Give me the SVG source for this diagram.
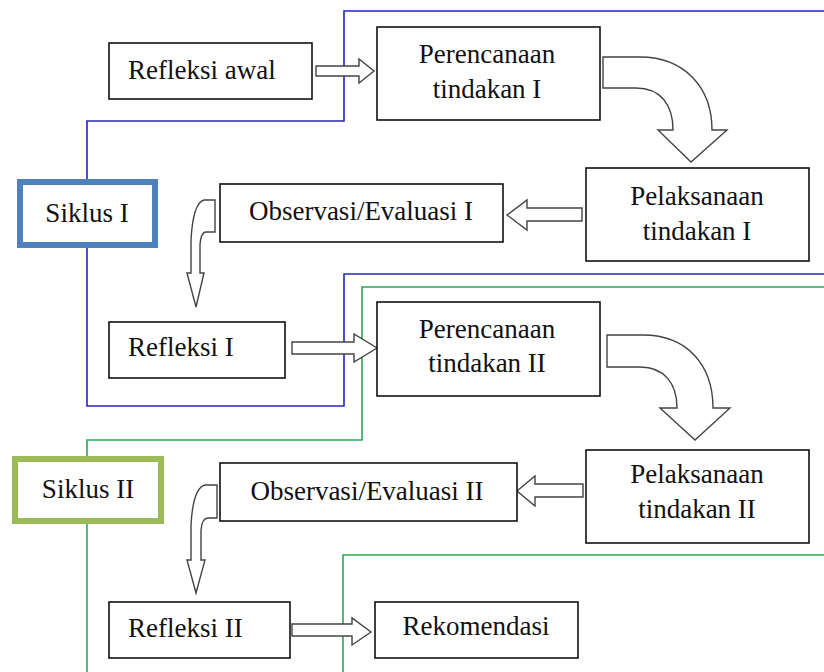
<svg xmlns="http://www.w3.org/2000/svg" width="824" height="672" viewBox="0 0 824 672">
<style>
.box{fill:#fff;stroke:#111;stroke-width:1.6}
.t{font-family:'Liberation Serif','Times New Roman','DejaVu Serif',serif;font-size:27px;fill:#111}
.c{text-anchor:middle}
.arr{fill:#fff;stroke:#444;stroke-width:1.4;stroke-linejoin:miter}
.blue{fill:none;stroke:#2424bf;stroke-width:1.6}
.green{fill:none;stroke:#2aa85a;stroke-width:1.6}
</style>
<rect width="824" height="672" fill="#fff"/>
<g id="cycle-lines">
<path class="blue" d="M824,11 H344 V121 H87 V182"/>
<path class="blue" d="M87,245 V406 H344 V274 H824"/>
<path class="green" d="M824,287 H362 V440 H87 V459"/>
<path class="green" d="M87,521 V672"/>
<path class="green" d="M343,672 V555 H824"/>
</g>
<g id="connectors">
<path class="arr" d="M316,66 H359 V59 L374,71 L359,83 V76 H316 Z"/>
<path class="arr" d="M603,57 H640 C685,57 712,88 712,130 H727 L691,162 L658,130 H673 C673,104 660,88 636,88 H603 Z"/>
<path class="arr" d="M582,208 H527 V200 L507,215 L527,230 V221 H582 Z"/>
<path class="arr" d="M215,200 H204 Q193,203 191,240 V273 H187 L196,307 L204,273 H200 V245 Q201,232 206,232 H215 Z"/>
<path class="arr" d="M292,342 H354 V334 L377,348 L354,362 V354 H292 Z"/>
<path class="arr" d="M607,335 H643 C688,335 713,366 713,408 H730 L695,440 L660,408 H677 C677,383 664,367 640,367 H607 Z"/>
<path class="arr" d="M583,484 H535 V476 L517,491 L535,506 V497 H583 Z"/>
<path class="arr" d="M217,485 H205 Q193,488 191,525 V560 H187 L196,593 L205,560 H201 V530 Q202,518 208,518 H217 Z"/>
<path class="arr" d="M292,624 H352 V618 L371,632 L352,645 V636 H292 Z"/>
</g>
<g id="refleksi-awal"><rect class="box" x="109" y="43" width="203" height="56"/><text class="t" x="128" y="79" font-family="Liberation Serif, serif">Refleksi awal</text></g>
<g id="perencanaan-1"><rect class="box" x="377" y="27" width="223" height="93"/><text class="t c" x="487" y="63">Perencanaan</text><text class="t c" x="487" y="98">tindakan I</text></g>
<g id="siklus-1"><rect x="20" y="182" width="135" height="63" fill="#fff" stroke="#4f81bd" stroke-width="6"/><text class="t c" x="87" y="222">Siklus I</text></g>
<g id="observasi-1"><rect class="box" x="220" y="184" width="283" height="58"/><text class="t c" x="361" y="220">Observasi/Evaluasi I</text></g>
<g id="pelaksanaan-1"><rect class="box" x="586" y="168" width="223" height="93"/><text class="t c" x="697" y="205">Pelaksanaan</text><text class="t c" x="697" y="240">tindakan I</text></g>
<g id="refleksi-1"><rect class="box" x="109" y="322" width="176" height="56"/><text class="t" x="128" y="356">Refleksi I</text></g>
<g id="perencanaan-2"><rect class="box" x="377" y="302" width="223" height="94"/><text class="t c" x="487" y="338">Perencanaan</text><text class="t c" x="487" y="372">tindakan II</text></g>
<g id="siklus-2"><rect x="15" y="459" width="146" height="62" fill="#fff" stroke="#9bbb59" stroke-width="6"/><text class="t c" x="88" y="498">Siklus II</text></g>
<g id="observasi-2"><rect class="box" x="220" y="463" width="297" height="58"/><text class="t c" x="367" y="500">Observasi/Evaluasi II</text></g>
<g id="pelaksanaan-2"><rect class="box" x="586" y="450" width="223" height="93"/><text class="t c" x="697" y="483">Pelaksanaan</text><text class="t c" x="697" y="518">tindakan II</text></g>
<g id="refleksi-2"><rect class="box" x="109" y="602" width="181" height="56"/><text class="t" x="128" y="637">Refleksi II</text></g>
<g id="rekomendasi"><rect class="box" x="375" y="602" width="203" height="56"/><text class="t c" x="476" y="635">Rekomendasi</text></g>
</svg>
